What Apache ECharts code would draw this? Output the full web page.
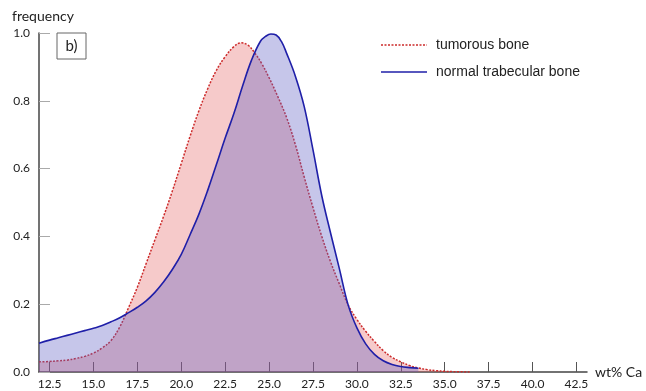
<!DOCTYPE html>
<html>
<head>
<meta charset="utf-8">
<script src="https://cdn.jsdelivr.net/npm/echarts@6/dist/echarts.min.js"></script>
<style>
  html, body { margin: 0; padding: 0; background: #fff; }
  #chart { width: 646px; height: 391px; }
</style>
</head>
<body>
<div id="chart"></div>
<script>
// wt% Ca vs frequency
var tumorCa = [11.9, 12.5, 13.0, 13.5, 14.0, 14.5, 15.0, 15.5, 16.0, 16.5, 17.0, 17.5, 18.0, 18.5, 19.0, 19.5, 20.0, 20.5, 21.0, 21.5, 22.0, 22.5, 23.0, 23.4, 23.8, 24.2, 24.6, 25.0, 25.5, 26.0, 26.5, 27.0, 27.5, 28.0, 28.5, 29.0, 29.5, 30.0, 30.5, 31.0, 31.5, 32.0, 32.5, 33.0, 33.5, 34.0, 34.5, 35.0, 35.5, 36.5];
var tumorFreq = [0.030, 0.031, 0.033, 0.035, 0.040, 0.046, 0.056, 0.071, 0.093, 0.133, 0.19, 0.25, 0.32, 0.39, 0.46, 0.535, 0.615, 0.695, 0.77, 0.835, 0.89, 0.93, 0.96, 0.971, 0.964, 0.94, 0.908, 0.868, 0.812, 0.75, 0.67, 0.575, 0.485, 0.40, 0.325, 0.26, 0.198, 0.155, 0.12, 0.09, 0.063, 0.043, 0.03, 0.019, 0.012, 0.007, 0.004, 0.002, 0.001, 0];

var normalCa = [11.9, 12.5, 13.0, 13.5, 14.0, 14.5, 15.0, 15.5, 16.0, 16.5, 17.0, 17.5, 18.0, 18.5, 19.0, 19.5, 20.0, 20.5, 21.0, 21.5, 22.0, 22.5, 23.0, 23.5, 24.0, 24.5, 24.8, 25.1, 25.4, 25.7, 26.0, 26.5, 27.0, 27.5, 28.0, 28.5, 29.0, 29.5, 30.0, 30.5, 31.0, 31.5, 32.0, 32.5, 33.0, 33.5];
var normalFreq = [0.085, 0.094, 0.101, 0.108, 0.115, 0.122, 0.129, 0.137, 0.148, 0.160, 0.175, 0.191, 0.210, 0.235, 0.266, 0.303, 0.347, 0.405, 0.465, 0.535, 0.612, 0.69, 0.763, 0.845, 0.92, 0.975, 0.99, 0.997, 0.994, 0.975, 0.94, 0.872, 0.783, 0.655, 0.52, 0.41, 0.305, 0.198, 0.13, 0.083, 0.052, 0.033, 0.022, 0.016, 0.013, 0.011];

var xTicks = [12.5, 15.0, 17.5, 20.0, 22.5, 25.0, 27.5, 30.0, 32.5, 35.0, 37.5, 40.0, 42.5];
var seriesNames = ['tumorous bone', 'normal trabecular bone'];

function pairs(xs, ys) {
    return xs.map(function (x, i) { return [x, ys[i]]; });
}

var chart = echarts.init(document.getElementById('chart'));

var labelFont = { fontFamily: 'Lato', fontSize: 12, color: '#222' };

chart.setOption({
    animation: false,
    grid: { left: 39, right: 59, top: 33, bottom: 19 },
    xAxis: {
        type: 'value',
        min: 11.9,
        max: 43.1,
        name: 'wt% Ca',
        nameLocation: 'end',
        nameGap: 8,
        nameTextStyle: { fontFamily: 'Lato', fontSize: 14, color: '#222' },
        axisLine: { lineStyle: { color: '#444', width: 1.5 } },
        axisTick: { inside: true, length: 10, customValues: xTicks, lineStyle: { color: '#555' } },
        axisLabel: Object.assign({
            customValues: xTicks,
            margin: 6,
            formatter: function (v) { return v.toFixed(1); }
        }, labelFont),
        splitLine: { show: false }
    },
    yAxis: {
        type: 'value',
        min: 0,
        max: 1,
        interval: 0.2,
        axisLine: { show: true, lineStyle: { color: '#444', width: 1.5 } },
        axisTick: { show: true, inside: true, length: 11, lineStyle: { color: '#aaa' } },
        axisLabel: Object.assign({
            margin: 9,
            formatter: function (v) { return v.toFixed(1); }
        }, labelFont),
        splitLine: { show: false }
    },
    series: [{
        name: seriesNames[0],
        type: 'line',
        smooth: 0.4,
        showSymbol: false,
        symbol: 'none',
        data: pairs(tumorCa, tumorFreq),
        lineStyle: { color: '#cc2a2a', width: 1.5, type: [2, 1.5] },
        areaStyle: { color: 'rgba(225, 80, 80, 0.3)', opacity: 1 },
        z: 2
    }, {
        name: seriesNames[1],
        type: 'line',
        smooth: 0.4,
        showSymbol: false,
        symbol: 'none',
        data: pairs(normalCa, normalFreq),
        lineStyle: { color: '#1f1fa8', width: 1.6 },
        areaStyle: { color: 'rgba(92, 92, 195, 0.35)', opacity: 1 },
        z: 3
    }],
    graphic: [
        { type: 'text', left: 12, top: 9, style: { text: 'frequency', fontFamily: 'Lato', fontSize: 14, fill: '#222' } },
        { type: 'rect', shape: { x: 57, y: 33, width: 29, height: 26 }, style: { fill: '#fff', stroke: '#666', lineWidth: 1 }, z: 10 },
        { type: 'text', x: 71.5, y: 46, style: { text: 'b)', fontFamily: 'Lato', fontSize: 15, fill: '#222', align: 'center', verticalAlign: 'middle' }, z: 11 },
        // legend
        { type: 'line', shape: { x1: 381, y1: 45, x2: 427, y2: 45 }, style: { stroke: '#cc2a2a', lineWidth: 1.5, lineDash: [2, 1.5] } },
        { type: 'text', x: 436, y: 45, style: { text: seriesNames[0], fontFamily: 'Liberation Sans', fontSize: 14, fill: '#222', verticalAlign: 'middle' } },
        { type: 'line', shape: { x1: 381, y1: 72, x2: 427, y2: 72 }, style: { stroke: '#1f1fa8', lineWidth: 1.6 } },
        { type: 'text', x: 436, y: 72, style: { text: seriesNames[1], fontFamily: 'Liberation Sans', fontSize: 14, fill: '#222', verticalAlign: 'middle' } }
    ]
});
</script>
</body>
</html>
